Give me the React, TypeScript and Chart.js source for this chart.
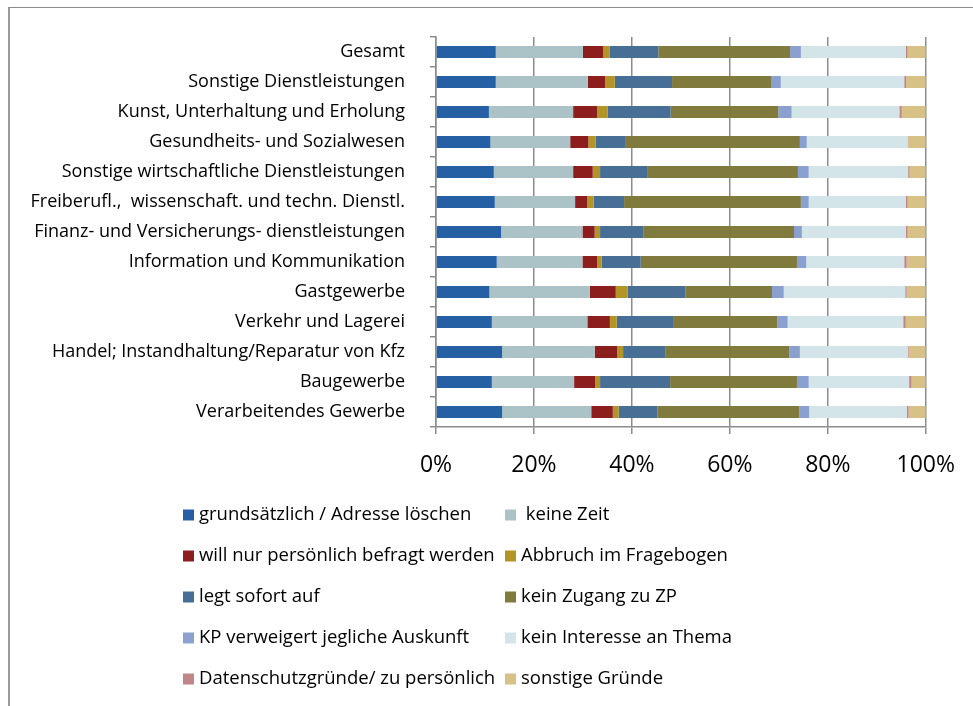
import React, { useEffect, useRef } from "react";
import { Chart, registerables } from "chart.js";

Chart.register(...registerables);

const categories = [
  "Gesamt",
  "Sonstige Dienstleistungen",
  "Kunst, Unterhaltung und Erholung",
  "Gesundheits- und Sozialwesen",
  "Sonstige wirtschaftliche Dienstleistungen",
  "Freiberufl.,  wissenschaft. und techn. Dienstl.",
  "Finanz- und Versicherungs- dienstleistungen",
  "Information und Kommunikation",
  "Gastgewerbe",
  "Verkehr und Lagerei",
  "Handel; Instandhaltung/Reparatur von Kfz",
  "Baugewerbe",
  "Verarbeitendes Gewerbe",
];

const seriesNames = [
  "grundsätzlich / Adresse löschen",
  " keine Zeit",
  "will nur persönlich befragt werden",
  "Abbruch im Fragebogen",
  "legt sofort auf",
  "kein Zugang zu ZP",
  "KP verweigert jegliche Auskunft",
  "kein Interesse an Thema",
  "Datenschutzgründe/ zu persönlich",
  "sonstige Gründe",
];

const grundsaetzlich = [12.2, 12.2, 10.8, 11.1, 11.8, 12.0, 13.3, 12.4, 10.9, 11.4, 13.5, 11.4, 13.5];
const keineZeit = [17.8, 18.8, 17.2, 16.3, 16.2, 16.4, 16.6, 17.5, 20.5, 19.5, 18.9, 16.8, 18.2];
const persoenlich = [4.1, 3.5, 4.9, 3.7, 4.0, 2.5, 2.5, 3.0, 5.3, 4.6, 4.6, 4.3, 4.4];
const abbruch = [1.4, 2.0, 2.1, 1.5, 1.5, 1.3, 1.1, 0.9, 2.4, 1.4, 1.2, 1.0, 1.2];
const legtAuf = [9.9, 11.7, 12.9, 6.0, 9.6, 6.2, 8.8, 8.0, 11.8, 11.5, 8.6, 14.3, 7.9];
const keinZugang = [26.9, 20.2, 22.0, 35.7, 30.8, 36.1, 30.8, 31.9, 17.7, 21.3, 25.3, 25.9, 29.0];
const kpVerweigert = [2.2, 2.0, 2.7, 1.4, 2.2, 1.6, 1.6, 1.9, 2.4, 2.1, 2.2, 2.4, 2.0];
const keinInteresse = [21.4, 25.2, 22.0, 20.6, 20.3, 19.8, 21.2, 20.0, 24.8, 23.6, 22.0, 20.5, 19.9];
const datenschutz = [0.4, 0.4, 0.5, 0.1, 0.3, 0.4, 0.4, 0.5, 0.3, 0.5, 0.2, 0.5, 0.4];
const sonstige = [3.7, 4.0, 4.9, 3.6, 3.3, 3.7, 3.7, 3.9, 3.9, 4.1, 3.5, 2.9, 3.5];

const seriesValues = [
  grundsaetzlich, keineZeit, persoenlich, abbruch, legtAuf,
  keinZugang, kpVerweigert, keinInteresse, datenschutz, sonstige,
];

const seriesColors = [
  "#2660a4", "#abc3c6", "#8c1e1e", "#b39427", "#476f96",
  "#817a3d", "#8aa1cf", "#d3e5e9", "#c08586", "#d7c187",
];

const xTicks = [0, 20, 40, 60, 80, 100];

const FONT = "'Open Sans', sans-serif";
const LABEL_SIZE = 18;
const LEGEND_SIZE = 18.5;
const LEGEND_COL_X = [183, 505];
const LEGEND_ROW_Y = [515, 556, 597, 638, 679];

const gridLegend = {
  id: "gridLegend",
  afterDraw(chart: any) {
    const ctx = chart.ctx;
    ctx.save();
    ctx.font = `${LEGEND_SIZE}px ${FONT}`;
    ctx.textBaseline = "middle";
    ctx.textAlign = "left";
    chart.data.datasets.forEach((ds: any, i: number) => {
      const col = i % 2;
      const row = Math.floor(i / 2);
      const x = LEGEND_COL_X[col];
      const y = LEGEND_ROW_Y[row];
      ctx.fillStyle = ds.backgroundColor;
      ctx.fillRect(x, y - 5.5, 11, 11);
      ctx.fillStyle = "#000";
      ctx.fillText(ds.label, x + 16, y);
    });
    ctx.restore();
  },
};

export default function App() {
  const ref = useRef<HTMLCanvasElement | null>(null);

  useEffect(() => {
    if (!ref.current) return;
    const chart = new Chart(ref.current, {
      type: "bar",
      data: {
        labels: categories,
        datasets: seriesNames.map((name, i) => ({
          label: name,
          data: seriesValues[i],
          backgroundColor: seriesColors[i],
          borderWidth: 0,
          barPercentage: 0.4,
          categoryPercentage: 1.0,
        })),
      },
      options: {
        indexAxis: "y",
        responsive: false,
        animation: false,
        layout: { padding: { top: 37, right: 47, left: 0, bottom: 0 } },
        plugins: {
          legend: { display: false },
          tooltip: { enabled: false },
          title: { display: false },
        },
        scales: {
          x: {
            stacked: true,
            min: 0,
            max: 100,
            afterBuildTicks: (s: any) => {
              s.ticks = xTicks.map((v) => ({ value: v }));
            },
            ticks: {
              callback: (v: any) => v + "%",
              font: { size: 23, family: FONT },
              color: "#000",
              padding: 18,
              maxRotation: 0,
            },
            grid: { color: "#8c8c8c", lineWidth: 1.5, tickLength: 7, drawTicks: true },
            border: { display: true, color: "#8c8c8c", width: 1.5 },
            afterFit: (s: any) => {
              s.height = 279;
            },
          },
          y: {
            stacked: true,
            ticks: {
              font: { size: LABEL_SIZE, family: FONT },
              color: "#000",
              padding: 25,
              autoSkip: false,
            },
            grid: {
              drawOnChartArea: false,
              drawTicks: true,
              tickLength: 6,
              color: "#8c8c8c",
              lineWidth: 1.5,
              offset: true,
            },
            border: { display: true, color: "#8c8c8c", width: 1.5 },
            afterFit: (s: any) => {
              s.width = 436;
            },
          },
        },
      },
      plugins: [gridLegend],
    });
    return () => chart.destroy();
  }, []);

  return (
    <div style={{ position: "absolute", left: 0, top: 0, width: 973, height: 706, overflow: "hidden", background: "#fff" }}>
      <div
        style={{
          position: "absolute",
          left: 8,
          top: 7,
          width: 1000,
          height: 720,
          borderTop: "1px solid #8c8c8c",
          borderLeft: "2px solid #9a9a9a",
        }}
      />
      <canvas ref={ref} width={973} height={706} style={{ position: "absolute", left: 0, top: 0, width: 973, height: 706 }} />
    </div>
  );
}
